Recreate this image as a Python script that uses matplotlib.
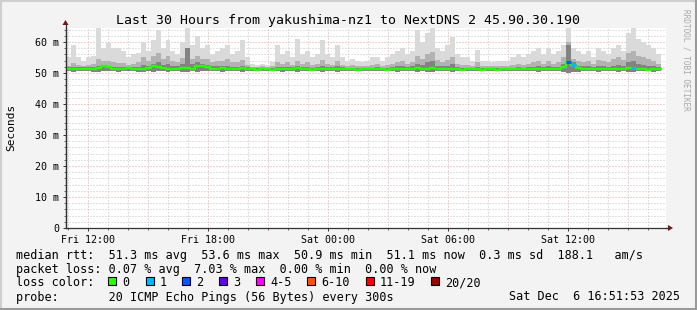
import numpy as np
import matplotlib
matplotlib.use('Agg')
import matplotlib.pyplot as plt
from matplotlib.patches import Rectangle, Polygon
from matplotlib.lines import Line2D

W, H = 697, 310
MONO = 'DejaVu Sans Mono'

title = 'Last 30 Hours from yakushima-nz1 to NextDNS 2 45.90.30.190'

# 15 minute steps starting Fri 10:51:53 (hours since Fri 00:00)
t_start = 10 + 51 / 60 + 53 / 3600
step_h = 0.25

median = [51.4, 51.2, 51.3, 51.2, 51.4, 51.3, 51.5, 52.2, 51.9, 51.4,
          51.2, 51.3, 51.5, 51.3, 51.2, 51.4, 51.6, 52.4, 51.9, 51.5,
          51.3, 51.4, 51.2, 51.5, 51.6, 51.4, 52.1, 52.3, 51.8, 51.4,
          51.3, 51.5, 51.4, 51.2, 51.3, 51.5, 51.3, 51.2, 51.1, 51.2,
          51.2, 51.1, 51.3, 51.4, 51.2, 51.3, 51.5, 51.3, 51.2, 51.1,
          51.3, 51.4, 51.2, 51.3, 51.4, 51.2, 51.3, 51.2, 51.1, 51.2,
          51.3, 51.2, 51.2, 51.3, 51.1, 51.2, 51.3, 51.4, 51.2, 51.3,
          51.5, 51.3, 51.4, 51.6, 51.3, 51.2, 51.3, 51.4, 51.2, 51.1,
          51.2, 51.3, 51.2, 51.1, 51.2, 51.2, 51.1, 51.2, 51.3, 51.2,
          51.2, 51.3, 51.2, 51.3, 51.4, 51.2, 51.3, 51.2, 51.4, 51.8,
          53.4, 52.6, 51.5, 51.3, 51.2, 51.3, 51.4, 51.2, 51.3, 51.2,
          51.4, 51.3, 51.5, 51.5, 51.3, 51.2, 51.1, 51.3, 51.2]

loss = [0] * 100 + [2, 1] + [0] * 11 + [1] + [0] * 5

smoke_min = [50.6, 50.4, 50.5, 50.6, 50.5, 50.4, 50.3, 50.5, 50.6, 50.5,
             50.4, 50.5, 50.6, 50.5, 50.4, 50.3, 50.5, 50.4, 50.5, 50.6,
             50.4, 50.5, 50.5, 50.4, 50.3, 50.5, 50.4, 50.5, 50.6, 50.5,
             50.5, 50.4, 50.5, 50.6, 50.5, 50.4, 50.6, 50.6, 50.7, 50.6,
             50.6, 50.7, 50.5, 50.4, 50.5, 50.6, 50.4, 50.5, 50.6, 50.5,
             50.5, 50.4, 50.6, 50.5, 50.4, 50.6, 50.6, 50.5, 50.6, 50.7,
             50.6, 50.5, 50.6, 50.5, 50.6, 50.5, 50.4, 50.5, 50.6, 50.5,
             50.4, 50.5, 50.4, 50.3, 50.5, 50.6, 50.5, 50.4, 50.6, 50.6,
             50.6, 50.5, 50.5, 50.6, 50.6, 50.7, 50.6, 50.6, 50.5, 50.6,
             50.5, 50.6, 50.5, 50.5, 50.4, 50.6, 50.5, 50.6, 50.5, 50.3,
             50.0, 50.2, 50.4, 50.5, 50.6, 50.5, 50.4, 50.6, 50.5, 50.6,
             50.4, 50.5, 50.3, 50.2, 50.5, 50.6, 50.5, 50.4, 50.5]

smoke_max = [55, 59, 55, 54, 55, 55.5, 64.5, 58, 59.7, 58,
             58, 57, 55, 56, 56.5, 60, 57, 60.6, 64, 58,
             60.6, 57, 56, 60, 66, 59, 62, 58, 59, 56,
             57, 58, 59, 56, 57, 60.6, 55, 53, 52.5, 53,
             52.5, 53.5, 59, 56, 57, 55, 61, 56, 57, 55,
             56, 60.6, 56, 55, 59, 55, 54, 54.5, 54, 53.5,
             54, 55, 55, 54, 55, 56, 57, 58, 56, 57,
             64, 60, 63, 64.5, 58, 57, 59, 61.6, 56, 55,
             55, 54, 57.5, 54, 54, 53.5, 54, 54, 54, 55,
             56, 55, 56, 57, 58, 56, 58, 56, 57, 59,
             66, 58, 57, 56, 57, 55, 58, 57, 56, 58,
             59, 57, 63, 64.5, 61, 60, 59, 58, 56]

smoke_mid = [52.4, 53.2, 52.6, 52.3, 52.6, 52.8, 54.6, 54.0, 54.0, 53.4,
             53.2, 53.2, 52.6, 53.0, 53.4, 55.0, 54.0, 55.6, 56.5, 54.6,
             55.4, 54.0, 53.6, 54.8, 58.0, 54.6, 55.6, 54.4, 54.6, 53.4,
             53.8, 54.0, 54.4, 53.4, 53.4, 54.2, 52.6, 52.0, 51.9, 52.1,
             52.0, 52.3, 53.4, 53.0, 53.4, 52.6, 53.8, 53.0, 53.4, 52.6,
             53.0, 54.2, 53.0, 52.6, 53.8, 52.6, 52.4, 52.6, 52.3, 52.2,
             52.4, 52.6, 52.8, 52.4, 52.6, 53.0, 53.4, 53.8, 53.0, 53.4,
             55.6, 54.6, 56.0, 56.6, 54.2, 53.6, 54.2, 55.0, 52.9, 52.6,
             52.6, 52.3, 53.4, 52.3, 52.2, 52.1, 52.3, 52.2, 52.2, 52.6,
             53.0, 52.6, 53.0, 53.4, 53.8, 53.0, 53.8, 53.0, 53.4, 55.0,
             60.0, 54.6, 53.8, 53.4, 53.8, 53.0, 54.2, 53.8, 53.4, 54.6,
             55.0, 54.2, 56.4, 57.0, 55.6, 55.0, 54.6, 54.0, 53.0]

smoke_dark = [51.9, 52.0, 51.9, 51.8, 51.9, 51.9, 52.4, 52.6, 52.4, 52.0,
              51.9, 52.0, 51.9, 51.9, 52.0, 52.6, 52.4, 53.0, 53.4, 52.6,
              52.8, 52.4, 52.2, 52.8, 58.0, 53.0, 53.4, 52.8, 52.6, 52.1,
              52.2, 52.3, 52.4, 52.0, 52.0, 52.3, 51.8, 51.6, 51.5, 51.6,
              51.6, 51.6, 52.0, 51.8, 52.0, 51.8, 52.2, 51.9, 52.0, 51.7,
              51.9, 52.4, 51.8, 51.8, 52.1, 51.8, 51.7, 51.7, 51.6, 51.6,
              51.7, 51.7, 51.8, 51.7, 51.7, 51.9, 52.1, 52.3, 51.9, 52.1,
              53.0, 52.6, 53.6, 54.0, 52.4, 52.1, 52.4, 52.8, 51.9, 51.7,
              51.7, 51.6, 52.0, 51.6, 51.6, 51.5, 51.6, 51.6, 51.6, 51.7,
              51.9, 51.7, 51.9, 52.0, 52.2, 51.9, 52.2, 51.9, 52.0, 53.0,
              59.0, 53.4, 52.4, 52.1, 52.2, 51.9, 52.3, 52.2, 52.0, 52.4,
              52.6, 52.3, 53.4, 53.8, 53.0, 52.6, 52.4, 52.2, 51.8]

y_ticks = [0, 10, 20, 30, 40, 50, 60]
y_labels = ['0', '10 m', '20 m', '30 m', '40 m', '50 m', '60 m']
x_ticks = [12, 18, 24, 30, 36]
x_labels = ['Fri 12:00', 'Fri 18:00', 'Sat 00:00', 'Sat 06:00', 'Sat 12:00']

loss_names = ['0', '1', '2', '3', '4-5', '6-10', '11-19', '20/20']
loss_colors = ['#26ff00', '#00b8ff', '#0059ff', '#5e00ff', '#ff00ff',
               '#ff5500', '#ff0000', '#a10000']

line1 = 'median rtt:  51.3 ms avg  53.6 ms max  50.9 ms min  51.1 ms now  0.3 ms sd  188.1   am/s'
line2 = 'packet loss: 0.07 % avg  7.03 % max  0.00 % min  0.00 % now'
line4 = 'probe:       20 ICMP Echo Pings (56 Bytes) every 300s'
stamp = 'Sat Dec  6 16:51:53 2025'


def fx(x):
    return x / W


def fy(y):
    return 1 - y / H


fig = plt.figure(figsize=(W / 100, H / 100), dpi=100, facecolor='#f3f3f3')
ax = fig.add_axes([fx(65.5), fy(228), 600 / W, 200 / H])
ax.set_facecolor('white')
ax.set_xlim(t_start, t_start + 30)
ax.set_ylim(0, 64.5)

# grid, rrdtool style dotted
dots = (0, (1, 2))
for v in range(2, 65, 2):
    if v % 10:
        ax.axhline(v, color='#c4c4c4', lw=0.72, ls=dots, zorder=0)
for v in range(10, 61, 10):
    ax.axhline(v, color='#f2a0a0', lw=0.72, ls=dots, zorder=0.5)
for h in range(11, 41):
    if h % 3:
        ax.axvline(h, color='#c4c4c4', lw=0.72, ls=dots, zorder=0)
    else:
        ax.axvline(h, color='#f2a0a0', lw=0.72, ls=dots, zorder=0.5)

n = len(median)
tt = t_start + step_h * np.arange(n + 1)


def ext(a):
    return np.append(a, a[-1])


ax.fill_between(tt, ext(smoke_min), ext(smoke_max), step='post', color='#dadada', lw=0, zorder=1)
ax.fill_between(tt, ext(smoke_min), ext(smoke_mid), step='post', color='#b2b2b2', lw=0, zorder=2)
ax.fill_between(tt, ext(smoke_min), ext(smoke_dark), step='post', color='#828282', lw=0, zorder=3)

ax.step(tt, ext(median), where='post', color=loss_colors[0], lw=1.7, zorder=4)
for i in range(n):
    if loss[i] > 0:
        ax.plot([tt[i], tt[i + 1]], [median[i], median[i]], color=loss_colors[loss[i]],
                lw=2.2, solid_capstyle='butt', zorder=5)

for s in ['top', 'right']:
    ax.spines[s].set_visible(False)
for s in ['left', 'bottom']:
    ax.spines[s].set_color('#333333')
    ax.spines[s].set_linewidth(0.9)

ax.set_yticks(y_ticks)
ax.set_yticklabels(y_labels, fontfamily=MONO, fontsize=7.2)
ax.set_yticks(range(2, 65, 2), minor=True)
ax.set_xticks(x_ticks)
ax.set_xticklabels(x_labels, fontfamily=MONO, fontsize=7.2)
ax.set_xticks(range(11, 41), minor=True)
ax.tick_params(axis='both', which='major', direction='out', length=2.5, width=0.7,
               color='#333333', pad=2.2, labelcolor='#000000')
ax.tick_params(axis='both', which='minor', direction='out', length=1.2, width=0.6,
               color='#555555')

# axis extensions and arrows
fig.add_artist(Line2D([fx(65.5), fx(65.5)], [fy(228), fy(24)], color='#333333', lw=0.9))
fig.add_artist(Line2D([fx(665.5), fx(669)], [fy(228), fy(228)], color='#333333', lw=0.9))
fig.add_artist(Polygon([(fx(62.5), fy(25)), (fx(68.5), fy(25)), (fx(65.5), fy(20))],
                       closed=True, transform=fig.transFigure, fc='#7f1010', ec='none'))
fig.add_artist(Polygon([(fx(668), fy(225)), (fx(668), fy(231)), (fx(673), fy(228))],
                       closed=True, transform=fig.transFigure, fc='#7f1010', ec='none'))

fig.text(fx(348), fy(24), title, fontfamily=MONO, fontsize=9.5, ha='center', va='baseline')
fig.text(fx(11), fy(127), 'Seconds', fontfamily=MONO, fontsize=8, rotation=90,
         ha='center', va='center')
fig.text(fx(686), fy(60), 'RRDTOOL / TOBI OETIKER', fontfamily=MONO, fontsize=5.6,
         rotation=270, ha='center', va='center', color='#a8a8a8')

fig.text(fx(16), fy(258.5), line1, fontfamily=MONO, fontsize=8.5, va='baseline')
fig.text(fx(16), fy(272.5), line2, fontfamily=MONO, fontsize=8.5, va='baseline')
fig.text(fx(16), fy(286.5), 'loss color:', fontfamily=MONO, fontsize=8.5, va='baseline')
box_x = [108, 146, 182, 219, 256, 307, 366, 431]
for bx, name, col in zip(box_x, loss_names, loss_colors):
    fig.add_artist(Rectangle((fx(bx), fy(284.5)), 7.5 / W, 7.5 / H, transform=fig.transFigure,
                             fc=col, ec='black', lw=0.8))
    fig.text(fx(bx + 14), fy(286.5), name, fontfamily=MONO, fontsize=8.5, va='baseline')
fig.text(fx(16), fy(300.5), line4, fontfamily=MONO, fontsize=8.5, va='baseline')
fig.text(fx(680), fy(300.5), stamp, fontfamily=MONO, fontsize=8.5, va='baseline', ha='right')

# 3d frame around the image
fig.add_artist(Line2D([0, 1], [fy(0.5), fy(0.5)], color='#cfcfcf', lw=1.5))
fig.add_artist(Line2D([fx(0.5), fx(0.5)], [0, 1], color='#cfcfcf', lw=1.5))
fig.add_artist(Line2D([0, 1], [fy(308.5), fy(308.5)], color='#9a9a9a', lw=2.2))
fig.add_artist(Line2D([fx(695.5), fx(695.5)], [0, 1], color='#9a9a9a', lw=2.2))

fig.savefig('out.png', dpi=100, facecolor=fig.get_facecolor())
